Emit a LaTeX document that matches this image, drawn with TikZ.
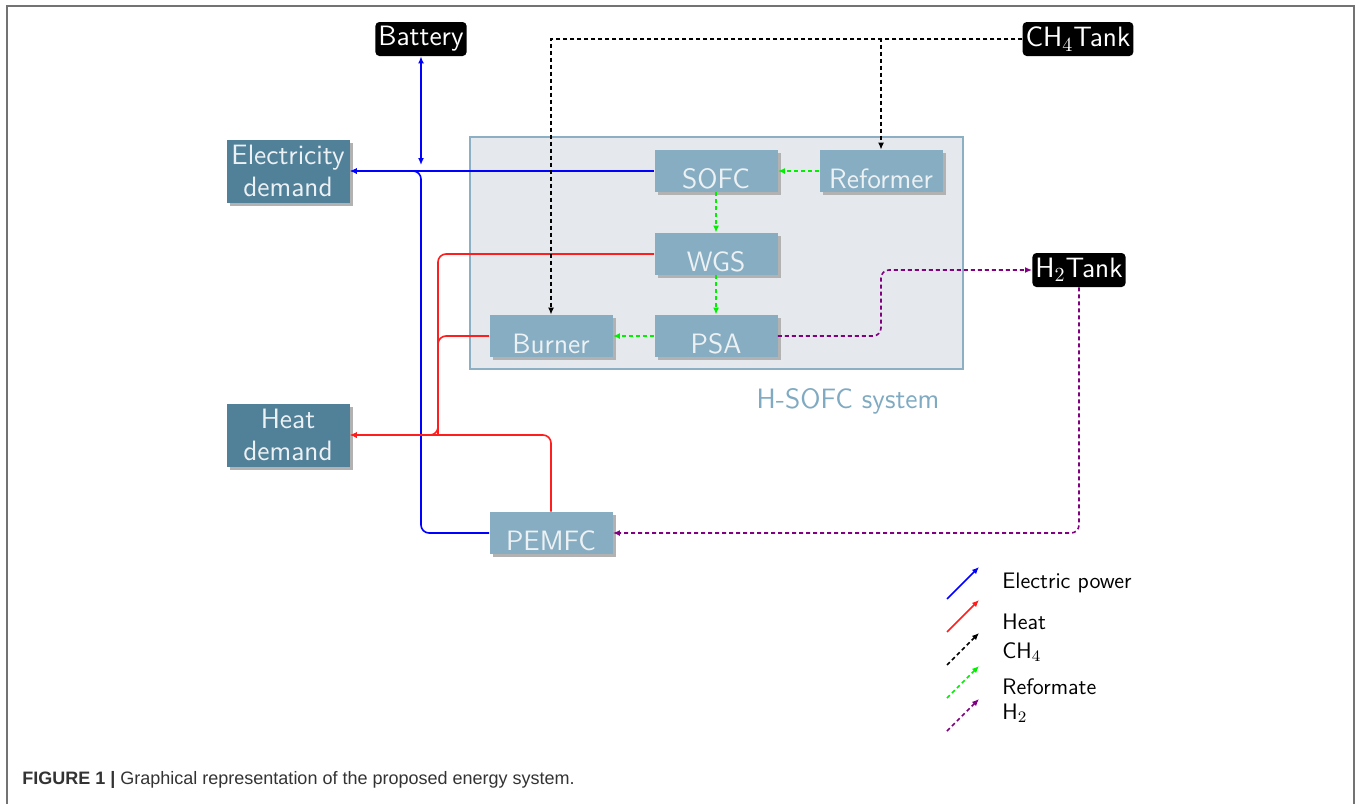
\documentclass[tikz,border=0pt]{standalone}
\usepackage{fontspec}
\usepackage{amsmath}
\usepackage{tikz}
\usetikzlibrary{arrows.meta, calc, positioning, fit, shadows}
\newfontfamily\capfont{Liberation Sans}
\definecolor{demandblue}{RGB}{81,128,153}
\definecolor{unitblue}{RGB}{135,173,194}
\definecolor{unittext}{RGB}{236,241,244}
\definecolor{sysfill}{RGB}{229,233,238}
\definecolor{sysdraw}{RGB}{140,175,195}
\definecolor{syslabel}{RGB}{127,170,193}
\definecolor{elecblue}{RGB}{0,0,255}
\definecolor{heatred}{RGB}{255,30,30}
\definecolor{refgreen}{RGB}{0,240,0}
\definecolor{h2purple}{RGB}{128,0,128}

\begin{document}
\begin{tikzpicture}[x=0.5pt, y=-0.5pt,
		arrow/.style = {line width=0.8pt, -{Latex[length=3.5pt,width=3pt]}},
		dsh/.style = {dash pattern=on 2pt off 1.5pt}]
		\tikzset{unit/.style={fill=unitblue, text=unittext, font=\fontsize{14}{16}\selectfont\sffamily, minimum width=61.5pt, inner sep=2pt, text height=17pt, text depth=0pt, drop shadow={shadow xshift=1.5pt, shadow yshift=-1.5pt, fill=gray!60, opacity=1}}}
		\tikzset{demand/.style={fill=demandblue, text=unittext, font=\fontsize{14}{16}\selectfont\sffamily, align=center, minimum width=61.5pt, minimum height=31.5pt, inner sep=0pt, drop shadow={shadow xshift=1.5pt, shadow yshift=-1.5pt, fill=gray!60, opacity=1}}}
		\tikzset{tank/.style={fill=black, text=white, rounded corners=2pt, font=\fontsize{14}{16}\selectfont\sffamily, inner xsep=1.5pt, inner ysep=0pt, minimum height=17pt}}
		\tikzset{legtext/.style={font=\fontsize{11.2}{13}\selectfont\sffamily, anchor=west, inner sep=0pt}}
		\useasboundingbox (0,0) rectangle (1359,804);
		\draw[black!55, line width=1pt] (7,804) -- (7,6) -- (1354,6) -- (1354,804);

		\node[fit={(470,137) (963,369)}, inner sep=0pt, draw=sysdraw, line width=0.8pt, fill=sysfill] (hsofc) {};
		\node[text=syslabel, font=\fontsize{14}{16}\selectfont\sffamily] (hlabel) at (848,401) {H-SOFC system};

		\node[tank] (bat) at (421,39) {Battery};
		\node[tank] (ch4t) at (1078,39) {CH$_4$Tank};
		\node[tank] (h2t) at (1079,270) {H$_2$Tank};

		\node[demand] (elecd) at (288,171) {Electricity\\demand};
		\node[demand] (heatd) at (288,435) {Heat\\demand};

		\node[unit] (sofc) at (716,171) {SOFC};
		\node[unit] (reformer) at (881,171) {Reformer};
		\node[unit] (wgs) at (716,254) {WGS};
		\node[unit] (psa) at (716,336) {PSA};
		\node[unit] (burner) at (551,336) {Burner};
		\node[unit] (pemfc) at (551,533) {PEMFC};

		\coordinate (ej) at (421,171);
		\coordinate (hj) at (438,435);

		\draw [arrow, elecblue] (sofc.west) -- (elecd.east);
		\draw [arrow, elecblue, {Latex[length=3.5pt,width=3pt]}-{Latex[length=3.5pt,width=3pt]}] (bat.south) -- ($(ej)+(0,-6)$);
		\draw [arrow, elecblue, rounded corners=4pt] (pemfc.west) -| (ej) -- (elecd.east);

		\draw [arrow, heatred, rounded corners=4pt] (wgs.west) -| (hj) -- (heatd.east);
		\draw [line width=0.8pt, heatred, rounded corners=4pt] (burner.west) -| (hj);
		\draw [arrow, heatred, rounded corners=4pt] (pemfc.north) |- (heatd.east);

		\draw [arrow, dsh, black] (ch4t.west) -| (burner.north);
		\draw [arrow, dsh, black] (ch4t.west) -| (reformer.north);

		\draw [arrow, dsh, refgreen] (reformer.west) -- (sofc.east);
		\draw [arrow, dsh, refgreen] (sofc.south) -- (wgs.north);
		\draw [arrow, dsh, refgreen] (wgs.south) -- (psa.north);
		\draw [arrow, dsh, refgreen] (psa.west) -- (burner.east);

		\draw [arrow, dsh, h2purple, rounded corners=4pt] (psa.east) -| (reformer.south |- h2t.west) -- (h2t.west);
		\draw [arrow, dsh, h2purple, rounded corners=4pt] (h2t.south) |- (pemfc.east);

		\foreach \c/\d/\t/\ya/\yt [count=\i] in {elecblue/solid/Electric power/599/583, heatred/solid/Heat/632/622, black/dsh/CH$_4$/665/652, refgreen/dsh/Reformate/698/687, h2purple/dsh/H$_2$/731/713}
		{
			\coordinate (la\i) at (947,\ya);
			\coordinate (lb\i) at (979,\ya-32);
			\draw [arrow, \c, \d] (la\i) -- (lb\i);
			\node[legtext] (lg\i) at (1002,\yt) {\t};
		}

		\node[anchor=west, inner sep=0pt, text=black!80, font=\capfont\fontsize{9}{11}\selectfont] (caption) at (22,780) {\textbf{FIGURE 1 |} Graphical representation of the proposed energy system.};
	\end{tikzpicture}
\end{document}
